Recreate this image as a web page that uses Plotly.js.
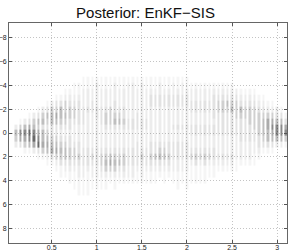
<!DOCTYPE html>
<html><head><meta charset="utf-8">
<script src="https://cdn.plot.ly/plotly-3.0.1.min.js"></script>
<style>html,body{margin:0;padding:0;background:#fff}</style>
</head><body>
<div id="chart" style="width:291px;height:251px"></div>
<script>
const times = [0.10,0.15,0.20,0.25,0.30,0.35,0.40,0.45,0.50,0.55,0.60,0.65,0.70,0.75,0.80,0.85,0.90,0.95,1.00,1.05,1.10,1.15,1.20,1.25,1.30,1.35,1.40,1.45,1.50,1.55,1.60,1.65,1.70,1.75,1.80,1.85,1.90,1.95,2.00,2.05,2.10,2.15,2.20,2.25,2.30,2.35,2.40,2.45,2.50,2.55,2.60,2.65,2.70,2.75,2.80,2.85,2.90,2.95,3.00,3.05,3.10];
const states = [-5,-4.5,-4,-3.5,-3,-2.5,-2,-1.5,-1,-0.5,0,0.5,1,1.5,2,2.5,3,3.5,4,4.5,5];
// posterior density per time step (one row per time, over states)
const density = [
[0,0,0,0,0,0,0,0,0,2,5,4,2,0,0,0,0,0,0,0,0],
[0,0,0,0,0,0,0,0,1,4,7,6,3,0,0,0,0,0,0,0,0],
[0,0,0,0,0,0,0,0,2,5,7,6,4,1,0,0,0,0,0,0,0],
[0,0,0,0,0,0,0,1,3,6,8,7,5,1,0,0,0,0,0,0,0],
[0,0,0,0,0,0,0,2,4,5,7,8,6,2,0,0,0,0,0,0,0],
[0,0,0,0,0,0,1,3,5,4,6,7,8,3,1,0,0,0,0,0,0],
[0,0,0,0,0,0,2,4,5,3,5,5,6,4,1,0,0,0,0,0,0],
[0,0,0,0,0,1,3,5,4,3,4,5,6,5,2,1,0,0,0,0,0],
[0,0,0,0,0,2,4,5,5,3,3,4,5,6,3,1,0,0,0,0,0],
[0,0,0,0,1,3,4,6,5,3,3,4,5,6,4,2,1,0,0,0,0],
[0,0,0,0,1,3,5,5,4,3,2,3,4,5,4,3,1,1,0,0,0],
[0,0,0,1,2,4,4,5,4,3,2,3,4,5,5,3,2,1,0,0,0],
[0,0,0,1,2,3,4,4,3,3,2,3,3,4,4,3,2,1,1,0,0],
[0,0,1,1,2,3,4,4,3,2,2,2,3,4,4,3,2,1,1,1,0],
[0,0,1,1,2,3,3,3,3,2,2,2,3,3,4,3,2,2,1,1,1],
[0,1,1,2,2,2,3,3,3,2,2,2,2,3,3,3,2,2,1,1,1],
[0,1,1,2,2,2,3,2,2,2,2,2,2,3,3,3,2,1,1,1,1],
[0,1,1,2,2,3,3,2,2,2,2,2,2,3,4,3,2,2,1,1,0],
[0,1,2,2,2,2,3,3,2,2,2,2,2,3,3,3,2,2,1,1,0],
[0,1,1,2,2,2,3,3,3,2,2,2,2,3,4,4,3,2,1,1,0],
[0,1,1,2,2,2,3,4,4,3,2,2,2,3,4,5,4,2,1,1,0],
[0,1,1,2,2,2,4,4,4,3,2,2,2,3,5,6,4,2,1,0,0],
[0,1,2,2,2,3,3,4,5,3,2,2,2,3,4,5,4,2,1,1,0],
[0,1,1,2,2,2,3,4,5,3,2,2,2,3,4,5,3,2,1,0,0],
[0,1,1,2,2,2,3,3,4,3,2,2,2,3,4,4,3,2,1,0,0],
[0,1,2,2,2,2,2,2,3,3,2,2,2,3,3,3,2,2,1,0,0],
[0,1,2,2,2,2,2,2,3,3,2,2,2,3,3,3,2,2,1,0,0],
[0,1,1,2,2,2,2,3,3,3,2,2,3,3,3,3,2,1,1,0,0],
[0,1,2,2,2,2,2,2,3,3,2,2,2,3,4,3,2,2,1,0,0],
[0,1,1,2,2,2,2,2,3,3,2,2,2,3,3,3,2,1,1,0,0],
[0,1,1,2,3,3,2,2,2,2,2,2,3,3,4,3,2,1,1,0,0],
[0,1,1,2,3,3,2,2,2,2,2,2,3,3,5,3,2,1,1,0,0],
[0,1,2,2,3,3,2,2,2,2,2,2,3,4,5,3,2,1,0,0,0],
[0,1,1,2,3,3,2,2,2,2,2,2,3,4,5,3,2,1,1,0,0],
[0,1,1,2,3,3,2,2,2,2,2,2,3,3,4,3,2,1,0,0,0],
[0,1,2,2,3,3,2,2,2,3,2,2,3,3,3,2,2,1,1,0,0],
[0,1,1,2,3,3,2,2,2,3,2,2,3,3,3,2,2,1,1,1,0],
[0,1,2,2,3,3,2,2,2,3,2,2,3,3,3,2,2,1,1,0,0],
[0,1,1,2,3,3,2,2,2,3,2,2,3,3,3,2,2,1,1,1,0],
[0,0,1,2,2,3,3,2,2,3,3,2,2,3,4,2,1,1,1,0,0],
[0,0,1,2,2,3,3,2,2,3,3,2,2,3,4,3,1,1,1,0,0],
[0,0,1,2,2,3,3,2,2,3,3,2,2,3,4,2,1,1,1,0,0],
[0,0,1,2,2,3,3,2,2,3,3,2,2,3,4,3,1,1,1,0,0],
[0,0,1,2,2,3,3,2,2,3,3,2,2,3,4,2,1,1,0,0,0],
[0,0,1,2,3,3,3,3,2,3,3,2,2,3,3,2,1,1,0,0,0],
[0,0,1,2,3,4,4,3,3,3,3,2,2,2,3,2,1,0,0,0,0],
[0,0,1,2,3,4,4,3,3,3,3,2,2,2,3,2,1,0,0,0,0],
[0,0,1,2,3,5,4,3,3,3,3,2,2,2,3,2,1,0,0,0,0],
[0,0,1,2,3,4,5,3,3,3,3,2,2,2,3,2,1,0,0,0,0],
[0,0,0,2,3,4,4,4,3,3,3,2,2,2,2,1,1,0,0,0,0],
[0,0,0,1,2,3,5,4,3,3,3,3,2,2,2,1,0,0,0,0,0],
[0,0,0,1,2,3,4,4,3,3,3,3,2,2,2,1,0,0,0,0,0],
[0,0,0,1,2,3,4,4,4,3,3,3,2,2,2,1,0,0,0,0,0],
[0,0,0,1,2,3,4,4,4,4,3,3,2,2,1,1,0,0,0,0,0],
[0,0,0,0,1,2,3,4,4,4,4,3,3,2,1,0,0,0,0,0,0],
[0,0,0,0,1,2,3,4,5,5,5,4,3,1,0,0,0,0,0,0,0],
[0,0,0,0,0,1,2,4,6,6,5,5,3,1,0,0,0,0,0,0,0],
[0,0,0,0,0,1,2,4,6,7,6,5,3,1,0,0,0,0,0,0,0],
[0,0,0,0,0,0,2,3,5,7,7,5,2,0,0,0,0,0,0,0,0],
[0,0,0,0,0,0,1,3,5,7,7,5,2,0,0,0,0,0,0,0,0],
[0,0,0,0,0,0,0,1,3,6,7,4,1,0,0,0,0,0,0,0,0]
];
const xTickVals = [0.5,1,1.5,2,2.5,3];
const xTickText = ['0.5','1','1.5','2','2.5','3'];
const yTickVals = [-8,-6,-4,-2,0,2,4,6,8];
const yTickText = ['\u22128','\u22126','\u22124','\u22122','0','2','4','6','8'];

const trace = {
  type:'heatmap', x:times, y:states, z:density, transpose:true,
  zmin:0, zmax:9, showscale:false, xgap:2, hoverinfo:'skip',
  colorscale:[[0,'rgba(0,0,0,0)'],[0.11,'rgba(0,0,0,0.04)'],[0.33,'rgba(0,0,0,0.11)'],[0.66,'rgba(0,0,0,0.32)'],[1,'rgba(0,0,0,0.72)']]
};
const axisCommon = {
  ticks:'inside', ticklen:3, tickcolor:'#555', showline:true, linecolor:'#666', linewidth:1,
  mirror:'ticks', showgrid:true, gridcolor:'#c4c4c4', griddash:'1px,2px', gridwidth:1, zeroline:false,
  tickfont:{family:'Liberation Sans, Arial, sans-serif', size:7, color:'#222'}, automargin:false
};
const layout = {
  width:291, height:251, margin:{l:9,r:4,t:23,b:8},
  paper_bgcolor:'#fff', plot_bgcolor:'#fff', showlegend:false,
  title:{text:'Posterior: EnKF\u2212SIS', x:0.5, xanchor:'center', y:0.95, yref:'container', yanchor:'middle',
    font:{family:'Liberation Sans, Arial, sans-serif', size:15, color:'#111'}},
  xaxis:Object.assign({}, axisCommon, {range:[0.026,3.11], tickmode:'array', tickvals:xTickVals, ticktext:xTickText, ticklabelstandoff:-2}),
  yaxis:Object.assign({}, axisCommon, {range:[9.25,-9.25], tickmode:'array', tickvals:yTickVals, ticktext:yTickText})
};
Plotly.newPlot('chart',[trace],layout,{staticPlot:true,displayModeBar:false});
</script>
</body></html>
